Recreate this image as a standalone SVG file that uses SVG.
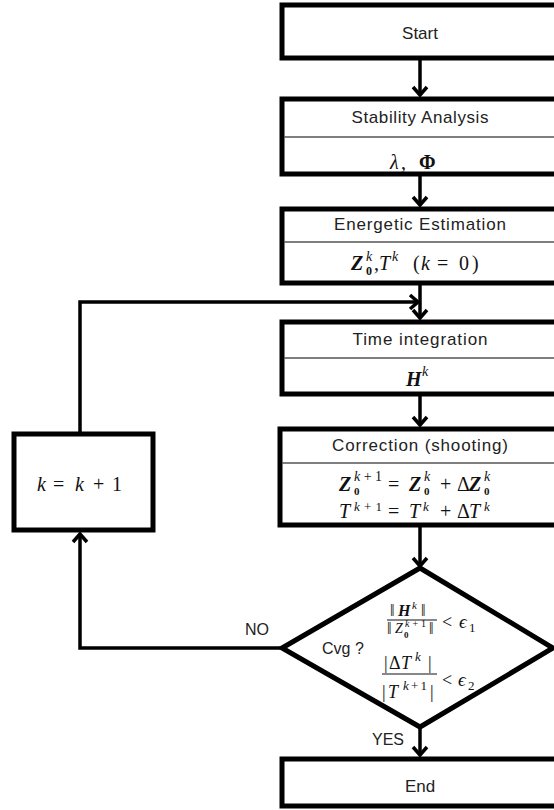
<svg xmlns="http://www.w3.org/2000/svg" width="554" height="810" viewBox="0 0 554 810">
<style>
.box{fill:#fff;stroke:#000;stroke-width:5}
.div{stroke:#555;stroke-width:1.5}
.lbl{font-family:"Liberation Sans","Arial",sans-serif;font-size:17px;fill:#222;text-anchor:middle}
.lab{font-family:"Liberation Sans","Arial",sans-serif;font-size:16px;fill:#222}
.m{font-family:"Liberation Serif","DejaVu Serif",serif;font-size:20px;fill:#111}
.i{font-style:italic}
.b{font-weight:bold}
.s{font-size:14px}
.t12{font-size:12px}
.t11{font-size:11px}
.t13{font-size:13px}
.con{fill:none;stroke:#000;stroke-width:3.5}
</style>
<defs>
<marker id="ah" markerUnits="userSpaceOnUse" markerWidth="20" markerHeight="20" viewBox="-10 -10 20 20" refX="0" refY="0" orient="auto">
<path d="M -8 -7 L 0 0 L -8 7" fill="none" stroke="#000" stroke-width="3.5"/>
</marker>
</defs>
<rect width="554" height="810" fill="#fff"/>

<g id="connectors">
<line class="con" x1="420" y1="58" x2="420" y2="95" marker-end="url(#ah)"/>
<line class="con" x1="420" y1="176" x2="420" y2="205" marker-end="url(#ah)"/>
<line class="con" x1="420" y1="285" x2="420" y2="318" marker-end="url(#ah)"/>
<path class="con" d="M 80 432 V 302 H 418" marker-end="url(#ah)"/>
<line class="con" x1="420" y1="396" x2="420" y2="425" marker-end="url(#ah)"/>
<line class="con" x1="420" y1="527" x2="420" y2="566" marker-end="url(#ah)"/>
<line class="con" x1="420" y1="727" x2="420" y2="755" marker-end="url(#ah)"/>
<path class="con" d="M 282 648 H 80 V 534" marker-end="url(#ah)"/>
</g>

<g id="start">
<rect class="box" x="282" y="5" width="290" height="53"/>
<text class="lbl" x="420" y="39">Start</text>
</g>

<g id="stability">
<rect class="box" x="282" y="99" width="290" height="75"/>
<line class="div" x1="284" y1="137" x2="560" y2="137"/>
<text class="lbl" x="420" y="123" textLength="137" lengthAdjust="spacing">Stability Analysis</text>
<text class="m i" x="390" y="169">λ</text>
<text class="m" x="401" y="169">,</text>
<text class="m b" x="419" y="169">Φ</text>
</g>

<g id="energetic">
<rect class="box" x="282" y="209" width="290" height="74"/>
<line class="div" x1="284" y1="242" x2="560" y2="242"/>
<text class="lbl" x="420" y="230" textLength="172" lengthAdjust="spacing">Energetic Estimation</text>
<text class="m b i" x="351" y="270">Z</text>
<text class="m i s" x="366" y="261">k</text>
<text class="m b t12" x="366" y="275">0</text>
<text class="m" x="374" y="270">,</text>
<text class="m i" x="379" y="270">T</text>
<text class="m i s" x="392" y="261">k</text>
<text class="m" x="413" y="270">(</text>
<text class="m i" x="421" y="270">k</text>
<text class="m" x="437" y="270">=</text>
<text class="m" x="459" y="270">0</text>
<text class="m" x="472" y="270">)</text>
</g>

<g id="time">
<rect class="box" x="282" y="322" width="290" height="72"/>
<line class="div" x1="284" y1="358" x2="560" y2="358"/>
<text class="lbl" x="420" y="345" textLength="135" lengthAdjust="spacing">Time integration</text>
<text class="m b i" x="406" y="386">H</text>
<text class="m i s" x="422" y="376">k</text>
</g>

<g id="correction">
<rect class="box" x="280" y="429" width="292" height="96"/>
<line class="div" x1="282" y1="463" x2="560" y2="463"/>
<text class="lbl" x="420" y="451" textLength="176" lengthAdjust="spacing">Correction (shooting)</text>
<text class="m b i" x="339" y="491">Z</text>
<text class="m s" x="354" y="481" textLength="28" lengthAdjust="spacing"><tspan font-style="italic">k</tspan>+1</text>
<text class="m b t11" x="354" y="495">0</text>
<text class="m" x="388" y="491">=</text>
<text class="m b i" x="409" y="491">Z</text>
<text class="m i s" x="424" y="481">k</text>
<text class="m b t11" x="424" y="495">0</text>
<text class="m" x="440" y="491">+</text>
<text class="m" x="457" y="491">Δ</text>
<text class="m b i" x="469" y="491">Z</text>
<text class="m i s" x="484" y="481">k</text>
<text class="m b t11" x="484" y="495">0</text>
<text class="m i" x="339" y="518">T</text>
<text class="m t13" x="354" y="511" textLength="28" lengthAdjust="spacing"><tspan font-style="italic">k</tspan>+1</text>
<text class="m" x="388" y="518">=</text>
<text class="m i" x="409" y="518">T</text>
<text class="m i t13" x="423" y="511">k</text>
<text class="m" x="440" y="518">+</text>
<text class="m" x="457" y="518">Δ</text>
<text class="m i" x="469" y="518">T</text>
<text class="m i t13" x="484" y="511">k</text>
</g>

<g id="cvg">
<polygon class="box" points="420,568 553,648 420,727 282,648"/>
<text class="lab" x="322" y="654">Cvg ?</text>
<text class="m" x="390" y="616" style="font-size:16px">‖</text>
<text class="m b i" x="398" y="616" style="font-size:16px">H</text>
<text class="m i" x="412" y="609" style="font-size:11px">k</text>
<text class="m" x="421" y="616" style="font-size:16px">‖</text>
<line x1="387" y1="620" x2="437" y2="620" stroke="#111" stroke-width="1"/>
<text class="m" x="387" y="634" style="font-size:16px">‖</text>
<text class="m i" x="395" y="633" style="font-size:14px">Z</text>
<text class="m" x="405" y="627" style="font-size:10px" textLength="21" lengthAdjust="spacing"><tspan font-style="italic">k</tspan>+1</text>
<text class="m b" x="404" y="638" style="font-size:9px">0</text>
<text class="m" x="429" y="634" style="font-size:16px">‖</text>
<text class="m" x="442" y="628" style="font-size:18px">&lt;</text>
<text class="m i" x="459" y="628" style="font-size:19px">ϵ</text>
<text class="m" x="469" y="632" style="font-size:13px">1</text>
<text class="m" x="384" y="669" style="font-size:18px">|</text>
<text class="m" x="389" y="669" style="font-size:18px">Δ</text>
<text class="m i" x="401" y="669" style="font-size:18px">T</text>
<text class="m i" x="415" y="661" style="font-size:13px">k</text>
<text class="m" x="428" y="669" style="font-size:18px">|</text>
<line x1="382" y1="674" x2="437" y2="674" stroke="#111" stroke-width="1"/>
<text class="m" x="382" y="698" style="font-size:18px">|</text>
<text class="m i" x="388" y="698" style="font-size:18px">T</text>
<text class="m" x="403" y="690" style="font-size:13px" textLength="24" lengthAdjust="spacing"><tspan font-style="italic">k</tspan>+1</text>
<text class="m" x="430" y="698" style="font-size:18px">|</text>
<text class="m" x="442" y="686" style="font-size:18px">&lt;</text>
<text class="m i" x="458" y="686" style="font-size:19px">ϵ</text>
<text class="m" x="468" y="690" style="font-size:13px">2</text>
</g>

<g id="end">
<rect class="box" x="282" y="759" width="290" height="47"/>
<text class="lbl" x="420" y="792">End</text>
</g>

<g id="increment">
<rect class="box" x="14" y="434" width="139" height="96"/>
<text class="m i" x="37" y="491">k</text>
<text class="m" x="53" y="491">=</text>
<text class="m i" x="75" y="491">k</text>
<text class="m" x="93" y="491">+</text>
<text class="m" x="112" y="491">1</text>
</g>

<g id="labels">
<text class="lab" x="245" y="635">NO</text>
<text class="lab" x="372" y="745">YES</text>
</g>
</svg>
